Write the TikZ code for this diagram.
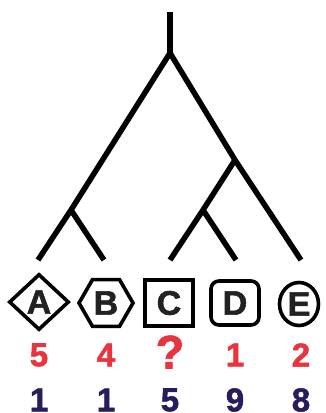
\documentclass[tikz,border=0pt]{standalone}
\usepackage{fontspec}
\setsansfont{Liberation Sans}
\newfontfamily\heavyfont{Liberation Sans}[FakeBold=1.6, BoldFont={Liberation Sans Bold}]
\usetikzlibrary{shapes.geometric}
\definecolor{scorered}{RGB}{232,52,60}
\definecolor{scorenavy}{RGB}{38,30,92}
\definecolor{taxongray}{RGB}{34,34,34}
\tikzset{
  branch/.style={line width=5.5pt, black},
  taxon/.style={draw=black, line width=3.6pt, inner sep=0pt, text=taxongray,
                font=\heavyfont\bfseries\fontsize{34}{34}\selectfont},
  txdiamond/.style={taxon, diamond, minimum width=60pt, minimum height=56pt},
  txhex/.style={taxon, regular polygon, regular polygon sides=6, minimum size=54pt},
  txsquare/.style={taxon, rectangle, minimum width=48pt, minimum height=46pt},
  txround/.style={taxon, rectangle, rounded corners=8pt, minimum width=48pt, minimum height=44pt},
  txcircle/.style={taxon, ellipse, minimum width=39pt, minimum height=43pt},
  score/.style={font=\heavyfont\bfseries\fontsize{33}{33}\selectfont, inner sep=0pt},
  scoreA/.style={score, scorered},
  scoreB/.style={score, scorenavy},
}
\begin{document}
\begin{tikzpicture}[x=1pt, y=-1pt]
  \useasboundingbox (0,0) rectangle (326,413);
  % tree
  \coordinate (top)  at (170,12);
  \coordinate (root) at (170,53);
  \coordinate (ab)   at (71,210);
  \coordinate (cde)  at (235,160);
  \coordinate (cd)   at (203,210);
  \coordinate (la) at (38,260);
  \coordinate (lb) at (104,260);
  \coordinate (lc) at (170,260);
  \coordinate (ld) at (236,260);
  \coordinate (le) at (301,260);
  \draw[branch] (top) -- (root);
  \draw[branch, line join=miter] (la) -- (ab) -- (root) -- (cde) -- (le);
  \draw[branch] (ab) -- (lb);
  \draw[branch] (cde) -- (cd) -- (lc);
  \draw[branch] (cd) -- (ld);
  % taxa
  \node[txdiamond] (A) at (39,302)  {A};
  \node[txhex]     (B) at (106,303) {B};
  \node[txsquare]  (C) at (169,303) {C};
  \node[txround]   (D) at (235,303) {D};
  \node[txcircle]  (E) at (299,304) {E};
  % scores
  \node[scoreA] (a1) at (39,355)  {5};
  \node[scoreA] (b1) at (106,355) {4};
  \node[scoreA, font=\heavyfont\bfseries\fontsize{47}{47}\selectfont] (c1) at (170,352) {?};
  \node[scoreA] (d1) at (235,355) {1};
  \node[scoreA] (e1) at (301,355) {2};
  \node[scoreB] (a2) at (39,400)  {1};
  \node[scoreB] (b2) at (106,400) {1};
  \node[scoreB] (c2) at (170,400) {5};
  \node[scoreB] (d2) at (235,400) {9};
  \node[scoreB] (e2) at (301,400) {8};
\end{tikzpicture}
\end{document}
